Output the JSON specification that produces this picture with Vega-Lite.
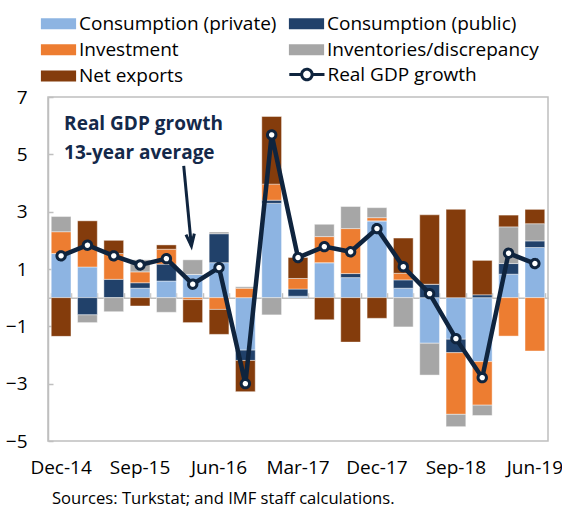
{
  "$schema": "https://vega.github.io/schema/vega-lite/v6.json",
  "width": 500,
  "height": 344,
  "autosize": {"type": "none"},
  "padding": {"left": 48, "top": 97, "right": 14, "bottom": 67},
  "config": {
    "font": "Open Sans",
    "view": {"stroke": "#BFBFBF", "strokeWidth": 1.5},
    "axis": {"labelFont": "Open Sans", "labelFontSize": 19, "labelColor": "#000000", "grid": false},
    "legend": {"labelFont": "Open Sans", "labelFontSize": 19, "labelColor": "#000000", "labelLimit": 400}
  },
  "title": {"text": "Sources: Turkstat; and IMF staff calculations.", "orient": "bottom", "anchor": "start", "frame": "group", "fontSize": 16.6, "fontWeight": "normal", "font": "Open Sans", "color": "#000000", "offset": 14, "dx": 4},
  "datasets": {
    "gdp": [
      {"q": "Dec-14", "Consumption (private)": 1.54, "Consumption (public)": 0, "Investment": 0.76, "Inventories/discrepancy": 0.53, "Net exports": -1.35, "gdp": 1.46},
      {"q": "Mar-15", "Consumption (private)": 1.07, "Consumption (public)": -0.60, "Investment": 0.65, "Inventories/discrepancy": -0.27, "Net exports": 0.96, "gdp": 1.83},
      {"q": "Jun-15", "Consumption (private)": 0, "Consumption (public)": 0.64, "Investment": 0.90, "Inventories/discrepancy": -0.49, "Net exports": 0.46, "gdp": 1.46},
      {"q": "Sep-15", "Consumption (private)": 0.33, "Consumption (public)": 0.19, "Investment": 0.38, "Inventories/discrepancy": 0.42, "Net exports": -0.29, "gdp": 1.14},
      {"q": "Dec-15", "Consumption (private)": 0.58, "Consumption (public)": 0.59, "Investment": 0.52, "Inventories/discrepancy": -0.51, "Net exports": 0.15, "gdp": 1.36},
      {"q": "Mar-16", "Consumption (private)": 0.81, "Consumption (public)": 0, "Investment": -0.07, "Inventories/discrepancy": 0.51, "Net exports": -0.80, "gdp": 0.47},
      {"q": "Jun-16", "Consumption (private)": 1.22, "Consumption (public)": 1.01, "Investment": -0.41, "Inventories/discrepancy": 0.06, "Net exports": -0.87, "gdp": 1.05},
      {"q": "Sep-16", "Consumption (private)": -1.83, "Consumption (public)": -0.36, "Investment": 0.33, "Inventories/discrepancy": 0.05, "Net exports": -1.09, "gdp": -3.0},
      {"q": "Dec-16", "Consumption (private)": 3.29, "Consumption (public)": 0.11, "Investment": 0.56, "Inventories/discrepancy": -0.60, "Net exports": 2.36, "gdp": 5.68},
      {"q": "Mar-17", "Consumption (private)": 0.05, "Consumption (public)": 0.25, "Investment": 0.37, "Inventories/discrepancy": 0, "Net exports": 0.73, "gdp": 1.40},
      {"q": "Jun-17", "Consumption (private)": 1.22, "Consumption (public)": 0, "Investment": 0.91, "Inventories/discrepancy": 0.43, "Net exports": -0.77, "gdp": 1.78},
      {"q": "Sep-17", "Consumption (private)": 0.70, "Consumption (public)": 0.14, "Investment": 1.57, "Inventories/discrepancy": 0.77, "Net exports": -1.55, "gdp": 1.60},
      {"q": "Dec-17", "Consumption (private)": 2.68, "Consumption (public)": 0, "Investment": 0.11, "Inventories/discrepancy": 0.35, "Net exports": -0.72, "gdp": 2.41},
      {"q": "Mar-18", "Consumption (private)": 0.33, "Consumption (public)": 0.29, "Investment": 0.23, "Inventories/discrepancy": -1.02, "Net exports": 1.23, "gdp": 1.08},
      {"q": "Jun-18", "Consumption (private)": -1.59, "Consumption (public)": 0.47, "Investment": 0, "Inventories/discrepancy": -1.11, "Net exports": 2.42, "gdp": 0.14},
      {"q": "Sep-18", "Consumption (private)": -1.45, "Consumption (public)": -0.47, "Investment": -2.15, "Inventories/discrepancy": -0.43, "Net exports": 3.08, "gdp": -1.43},
      {"q": "Dec-18", "Consumption (private)": -2.23, "Consumption (public)": 0.10, "Investment": -1.52, "Inventories/discrepancy": -0.36, "Net exports": 1.20, "gdp": -2.79},
      {"q": "Mar-19", "Consumption (private)": 0.82, "Consumption (public)": 0.37, "Investment": -1.34, "Inventories/discrepancy": 1.28, "Net exports": 0.41, "gdp": 1.55},
      {"q": "Jun-19", "Consumption (private)": 1.75, "Consumption (public)": 0.23, "Investment": -1.86, "Inventories/discrepancy": 0.60, "Net exports": 0.50, "gdp": 1.19}
    ],
    "parts": [
      {"key": "Consumption (private)", "rank": 1},
      {"key": "Consumption (public)", "rank": 2},
      {"key": "Investment", "rank": 3},
      {"key": "Inventories/discrepancy", "rank": 4},
      {"key": "Net exports", "rank": 5}
    ],
    "note": [
      {"q": "Dec-14", "y": 6.06, "t": "Real GDP growth"},
      {"q": "Dec-14", "y": 5.06, "t": "13-year average"}
    ],
    "arrow": [
      {"q": "Mar-16", "y1": 4.6, "y2": 1.8}
    ]
  },
  "layer": [
    {
      "data": {"name": "gdp"},
      "transform": [
        {"fold": ["Consumption (private)", "Consumption (public)", "Investment", "Inventories/discrepancy", "Net exports"], "as": ["key", "value"]},
        {"lookup": "key", "from": {"data": {"name": "parts"}, "key": "key", "fields": ["rank"]}}
      ],
      "mark": {"type": "bar", "stroke": "#FFFFFF", "strokeWidth": 0.6, "strokeOpacity": 0.7},
      "encoding": {
        "x": {"field": "q", "type": "ordinal", "sort": null,
          "scale": {"domain": ["Dec-14", "Mar-15", "Jun-15", "Sep-15", "Dec-15", "Mar-16", "Jun-16", "Sep-16", "Dec-16", "Mar-17", "Jun-17", "Sep-17", "Dec-17", "Mar-18", "Jun-18", "Sep-18", "Dec-18", "Mar-19", "Jun-19"], "paddingInner": 0.25, "paddingOuter": 0.123},
          "axis": {"orient": "bottom", "title": null, "domain": false, "ticks": false, "labelAngle": 0, "labelPadding": 17,
            "values": ["Dec-14", "Sep-15", "Jun-16", "Mar-17", "Dec-17", "Sep-18", "Jun-19"]}},
        "y": {"field": "value", "type": "quantitative", "stack": "zero", "title": null,
          "scale": {"domain": [-5, 7], "nice": false, "zero": false},
          "axis": {"title": null, "values": [-5, -3, -1, 1, 3, 5, 7], "tickSize": -5, "labelPadding": 26, "domainColor": "#BFBFBF", "domainWidth": 1.5, "tickColor": "#BFBFBF", "tickWidth": 1.5}},
        "order": {"field": "rank", "type": "quantitative", "sort": "ascending"},
        "color": {"field": "key", "type": "nominal",
          "scale": {"domain": ["Consumption (private)", "Consumption (public)", "Investment", "Inventories/discrepancy", "Net exports"],
            "range": ["#8DB4E2", "#21416A", "#ED7D31", "#A6A6A6", "#843C0C"]},
          "legend": {"orient": "none", "legendX": 1, "legendY": -83, "columns": 2, "direction": "horizontal", "columnPadding": 11, "rowPadding": 6.2, "padding": 0,
            "title": null, "symbolSize": 121, "labelOffset": 11,
            "encoding": {"symbols": {
              "shape": {"value": "M-3.2,-1H3.2V1H-3.2Z"},
              "strokeWidth": {"value": 0},
              "fillOpacity": {"value": 1},
              "opacity": {"value": 1}
            }}}
        }
      }
    },
    {
      "mark": {"type": "rule", "color": "#2E4A88", "strokeWidth": 3.5, "xOffset": -10, "x2Offset": 1},
      "encoding": {
        "x": {"datum": "Dec-14", "type": "ordinal", "axis": null},
        "x2": {"datum": "Jun-19"},
        "y": {"datum": 1.46, "type": "quantitative", "title": null}
      }
    },
    {
      "data": {"name": "gdp"},
      "mark": {"type": "line", "color": "#0F243E", "strokeWidth": 4.5},
      "encoding": {
        "x": {"field": "q", "type": "ordinal", "sort": null,
          "axis": {"orient": "top", "offset": -200.67, "title": null, "labels": false, "domain": true, "ticks": true, "tickBand": "extent", "tickSize": 5,
            "domainColor": "#BFBFBF", "domainWidth": 1.5, "tickColor": "#BFBFBF", "tickWidth": 1.5}},
        "y": {"field": "gdp", "type": "quantitative", "title": null}
      }
    },
    {
      "data": {"name": "gdp"},
      "mark": {"type": "point", "shape": "circle", "filled": true, "fill": "#FFFFFF", "stroke": "#0F243E", "strokeWidth": 3, "size": 70, "opacity": 1},
      "encoding": {
        "x": {"field": "q", "type": "ordinal", "sort": null, "axis": null},
        "y": {"field": "gdp", "type": "quantitative", "title": null},
        "strokeDash": {"datum": "Real GDP growth", "type": "nominal",
          "scale": {"domain": ["Real GDP growth"], "range": [[1, 0]]},
          "legend": {"orient": "none", "legendX": 249.4, "legendY": -32, "padding": 0, "title": null, "symbolSize": 121, "labelOffset": 11,
            "symbolFillColor": "#FFFFFF", "symbolStrokeColor": "#0F243E", "symbolStrokeWidth": 3,
            "encoding": {"symbols": {
              "shape": {"value": "M-3.2,0H-0.95M0.95,0H3.2M-0.95,0A0.95,0.95 0 1,1 0.95,0A0.95,0.95 0 1,1 -0.95,0"},
              "fill": {"value": "#FFFFFF"},
              "stroke": {"value": "#0F243E"},
              "strokeWidth": {"value": 3},
              "strokeDash": {"value": [1, 0]},
              "fillOpacity": {"value": 1},
              "opacity": {"value": 1}
            }}}
        }
      }
    },
    {
      "data": {"name": "note"},
      "mark": {"type": "text", "align": "left", "baseline": "middle", "dx": 3, "fontSize": 19, "fontWeight": "bold", "color": "#14294A"},
      "encoding": {
        "x": {"field": "q", "type": "ordinal", "sort": null, "axis": null},
        "y": {"field": "y", "type": "quantitative", "title": null},
        "text": {"field": "t"}
      }
    },
    {
      "data": {"name": "arrow"},
      "mark": {"type": "rule", "color": "#0F243E", "strokeWidth": 3, "xOffset": -9, "x2Offset": -1.3},
      "encoding": {
        "x": {"field": "q", "type": "ordinal", "sort": null, "axis": null},
        "x2": {"field": "q"},
        "y": {"field": "y1", "type": "quantitative", "title": null},
        "y2": {"field": "y2"}
      }
    },
    {
      "data": {"name": "arrow"},
      "mark": {"type": "point", "shape": "M-0.35,-1L0,0L0.35,-1", "filled": false, "stroke": "#0F243E", "strokeWidth": 3, "size": 576, "angle": -6, "xOffset": -1.3, "opacity": 1},
      "encoding": {
        "x": {"field": "q", "type": "ordinal", "sort": null, "axis": null},
        "y": {"field": "y2", "type": "quantitative", "title": null}
      }
    }
  ],
  "resolve": {"axis": {"x": "independent"}}
}
